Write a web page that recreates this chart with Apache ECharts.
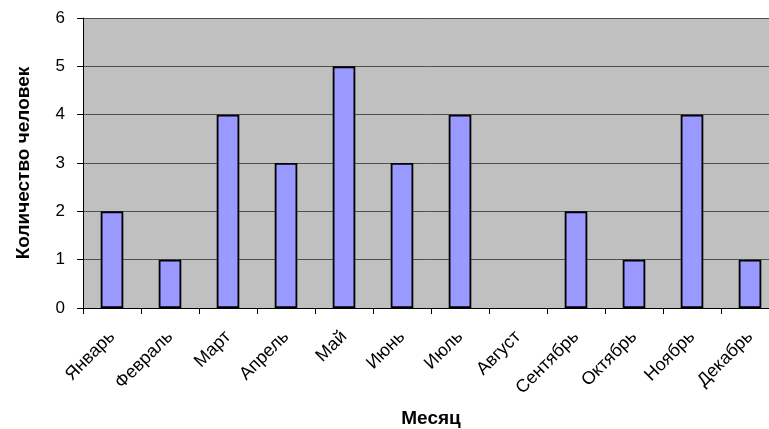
<!DOCTYPE html>
<html>
<head>
<meta charset="utf-8">
<script src="https://cdn.jsdelivr.net/npm/echarts@6/dist/echarts.min.js"></script>
<style>
html,body{margin:0;padding:0;background:#fff;}
#chart{width:769px;height:429px;}
</style>
</head>
<body>
<div id="chart"></div>
<script>
const categories = ['Январь','Февраль','Март','Апрель','Май','Июнь','Июль','Август','Сентябрь','Октябрь','Ноябрь','Декабрь'];
const values = [2,1,4,3,5,3,4,0,2,1,4,1];
const yTicks = [0,1,2,3,4,5,6];
const xName = 'Месяц';
const yName = 'Количество человек';

const chart = echarts.init(document.getElementById('chart'));
const font = 'Liberation Sans, Arial, sans-serif';
chart.setOption({
  animation: false,
  grid: {left: 83, top: 18, right: -10, bottom: 121, containLabel: false, outerBoundsMode: 'none',
         show: true, backgroundColor: '#C0C0C0', borderWidth: 0},
  xAxis: {
    type: 'category',
    data: categories,
    name: xName,
    nameLocation: 'middle',
    nameGap: 101,
    nameTextStyle: {fontFamily: font, fontSize: 19, fontWeight: 'bold', color: '#000'},
    axisLine: {lineStyle: {color: '#000', width: 1}},
    axisTick: {show: true, length: 6, lineStyle: {color: '#000'}},
    axisLabel: {rotate: 45, margin: 26, fontFamily: font, fontSize: 18, color: '#000', interval: 0}
  },
  yAxis: {
    type: 'value',
    min: yTicks[0], max: yTicks[yTicks.length-1], interval: 1,
    name: yName,
    nameLocation: 'middle',
    nameGap: 50,
    nameTextStyle: {fontFamily: font, fontSize: 19, fontWeight: 'bold', color: '#000'},
    axisLine: {show: true, lineStyle: {color: '#000', width: 1}},
    axisTick: {show: true, length: 6, lineStyle: {color: '#000'}},
    axisLabel: {margin: 18, fontFamily: font, fontSize: 17, color: '#000'},
    splitLine: {show: true, lineStyle: {color: '#505050', width: 1}}
  },
  series: [{
    type: 'bar',
    data: values.map(v => v === 0 ? '-' : v),
    barWidth: '39%',
    itemStyle: {color: '#9999FF', borderColor: '#000', borderWidth: 1.8}
  }]
});
</script>
</body>
</html>
